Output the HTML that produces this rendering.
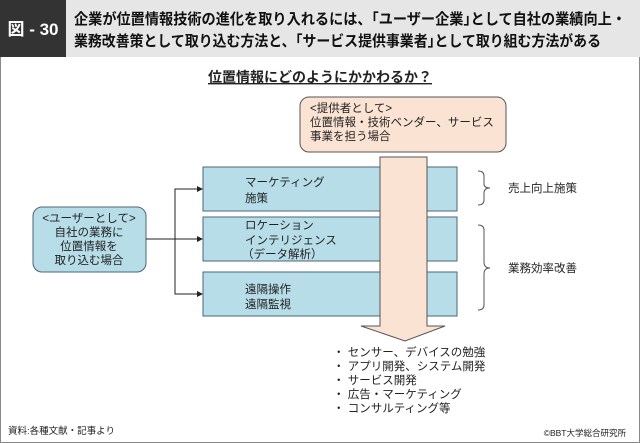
<!DOCTYPE html>
<html><head><meta charset="utf-8"><style>
body{margin:0;background:#fff}
svg{display:block;font-family:"Liberation Sans","Noto Sans CJK JP",sans-serif}
</style></head><body>
<svg width="640" height="443" viewBox="0 0 640 443" xmlns="http://www.w3.org/2000/svg">
<defs><marker id="a" markerWidth="6" markerHeight="6" refX="5" refY="3" orient="auto"><path d="M0,0 L6,3 L0,6z" fill="#222"/></marker></defs>
<rect x="0.5" y="0.5" width="639" height="442" fill="#fff" stroke="#888"/>
<rect x="0" y="0" width="640" height="57" fill="#e6e6e6"/>
<rect x="0" y="0" width="66" height="57" fill="#333"/>
<text x="33" y="35" fill="#fff" font-size="17" font-weight="bold" text-anchor="middle">図 - 30</text>
<text x="74" y="24" font-size="15" font-weight="bold" fill="#111" textLength="552" lengthAdjust="spacingAndGlyphs">企業が位置情報技術の進化を取り入れるには、｢ユーザー企業｣として自社の業績向上・</text>
<text x="74" y="46" font-size="15" font-weight="bold" fill="#111" textLength="527" lengthAdjust="spacingAndGlyphs">業務改善策として取り込む方法と、｢サービス提供事業者｣として取り組む方法がある</text>
<text x="320" y="82" font-size="14" font-weight="bold" text-anchor="middle" fill="#222" text-decoration="underline">位置情報にどのようにかかわるか？</text>
<rect x="300" y="97" width="206" height="55" rx="9" fill="#fbe3d3" stroke="#555"/>
<g font-size="11.5" fill="#222"><text x="310" y="112">&lt;提供者として&gt;</text><text x="310" y="126">位置情報・技術ベンダー、サービス</text><text x="310" y="140">事業を担う場合</text></g>
<rect x="203" y="167" width="254" height="44" fill="#b7dde9" stroke="#4b6676"/>
<rect x="203" y="217" width="254" height="44" fill="#b7dde9" stroke="#4b6676"/>
<rect x="203" y="272" width="254" height="44" fill="#b7dde9" stroke="#4b6676"/>
<path d="M380,157 H427 V326 H445 L405,341 L361,326 H380 Z" fill="#fbe3d3" stroke="#555"/>
<g font-size="11.5" fill="#222">
<text x="245" y="186">マーケティング</text><text x="245" y="202">施策</text>
<text x="245" y="229">ロケーション</text><text x="245" y="244">インテリジェンス</text><text x="242" y="258">（データ解析）</text>
<text x="245" y="293">遠隔操作</text><text x="245" y="308">遠隔監視</text>
</g>
<rect x="33" y="207" width="113" height="65" rx="9" fill="#b7dde9" stroke="#4b6676"/>
<g font-size="11.5" fill="#222" text-anchor="middle"><text x="89" y="222">&lt;ユーザーとして&gt;</text><text x="89" y="236">自社の業務に</text><text x="89" y="250">位置情報を</text><text x="89" y="264">取り込む場合</text></g>
<g stroke="#222" fill="none"><line x1="146" y1="239" x2="202" y2="239" marker-end="url(#a)"/><path d="M202,189 H175 V294 H202" /><line x1="175" y1="189" x2="202" y2="189" marker-end="url(#a)"/><line x1="175" y1="294" x2="202" y2="294" marker-end="url(#a)"/></g>
<g stroke="#555" fill="none"><path d="M478,171 Q484,171 484,176 V184 Q484,188 490,188 Q484,188 484,193 V200 Q484,205 478,205"/><path d="M478,225 Q484,225 484,230 V262 Q484,268 490,268 Q484,268 484,274 V305 Q484,310 478,310"/></g>
<g font-size="11.5" fill="#222"><text x="508" y="192">売上向上施策</text><text x="508" y="272">業務効率改善</text></g>
<g font-size="11.5" fill="#222"><text x="333" y="356">・ センサー、デバイスの勉強</text><text x="333" y="370">・ アプリ開発、システム開発</text><text x="333" y="384">・ サービス開発</text><text x="333" y="398">・ 広告・マーケティング</text><text x="333" y="412">・ コンサルティング等</text></g>
<text x="8" y="434" font-size="9.5" fill="#222">資料:各種文献・記事より</text>
<text x="626" y="436" font-size="8.5" fill="#222" text-anchor="end">©BBT大学総合研究所</text>
</svg>
</body></html>
